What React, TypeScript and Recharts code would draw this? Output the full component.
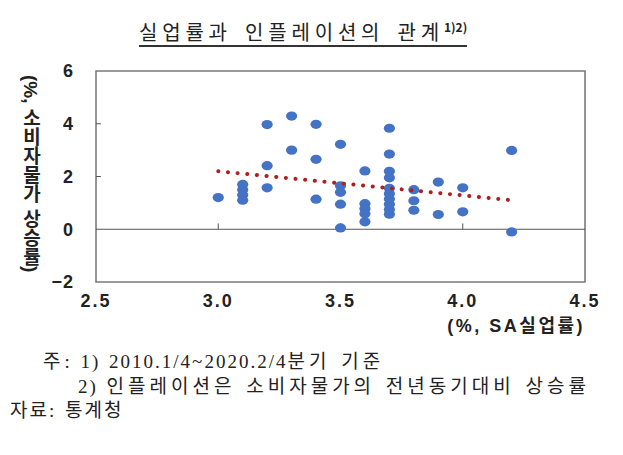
import React from 'react';
import { ScatterChart, Scatter, XAxis, YAxis, ReferenceLine, ReferenceArea } from 'recharts';

const unemployment = [
  3.0,
  3.1, 3.1, 3.1, 3.1,
  3.2, 3.2, 3.2,
  3.3, 3.3,
  3.4, 3.4, 3.4,
  3.5, 3.5, 3.5, 3.5, 3.5,
  3.6, 3.6, 3.6, 3.6, 3.6,
  3.7, 3.7, 3.7, 3.7, 3.7, 3.7, 3.7, 3.7, 3.7, 3.7,
  3.8, 3.8, 3.8,
  3.9, 3.9,
  4.0, 4.0,
  4.2, 4.2,
];
const inflation = [
  1.2,
  1.7, 1.5, 1.3, 1.1,
  3.97, 2.41, 1.57,
  4.29, 3.0,
  3.98, 2.65, 1.14,
  3.22, 1.65, 1.4, 0.95, 0.05,
  2.21, 0.97, 0.78, 0.59, 0.28,
  3.83, 2.85, 2.2, 1.95, 1.55, 1.35, 1.15, 0.95, 0.75, 0.57,
  1.5, 1.08, 0.72,
  1.79, 0.56,
  1.57, 0.66,
  2.99, -0.1,
];
const trendX = [3.0, 4.2];
const trendY = [2.2, 1.1];
const xTicks = [2.5, 3.0, 3.5, 4.0, 4.5];
const yTicks = [-2, 0, 2, 4, 6];
const xInnerTicks = [3.0, 3.5, 4.0];
const yInnerTicks = [2, 4];

const points = unemployment.map((x, i) => ({ x, y: inflation[i] }));
const trend = trendX.map((x, i) => ({ x, y: trendY[i] }));

const tickFont = {
  fontFamily: "'Liberation Sans', Arial, 'Noto Sans CJK KR', sans-serif",
  fontWeight: 700,
  fontSize: 18,
  fill: '#222',
};

const Dot = (props: any) => {
  const { cx, cy } = props;
  if (cx == null || cy == null) return null;
  return <ellipse cx={cx} cy={cy} rx={5.6} ry={4.6} fill="#4472C4" />;
};

const fmt = (v: number) => (v === -2 ? '\u22122' : v.toFixed(0));

const hangul = { letterSpacing: 4 };
const latin = { letterSpacing: 2 };

export default function App() {
  return (
    <div style={{ position: 'relative', width: 623, height: 455, background: '#fff', overflow: 'hidden' }}>
      <style>{`body{margin:0}`}</style>
      <div
        style={{
          position: 'absolute',
          left: 139,
          top: 14,
          fontFamily: "'Noto Sans CJK KR', sans-serif",
          fontSize: 20,
          color: '#222',
          letterSpacing: 4.8,
          wordSpacing: 4,
          borderBottom: '2px solid #333',
          lineHeight: '26px',
          whiteSpace: 'nowrap',
        }}
      >
        실업률과 인플레이션의 관계
        <span style={{ fontSize: 12, fontWeight: 700, verticalAlign: 'super', letterSpacing: 0, wordSpacing: 0 }}>1)2)</span>
      </div>
      <ScatterChart width={623} height={455} margin={{ top: 71, left: 70, right: 38, bottom: 143 }}>
        <XAxis
          type="number"
          dataKey="x"
          domain={[2.5, 4.5]}
          ticks={xTicks}
          tickFormatter={(v: number) => v.toFixed(1)}
          axisLine={false}
          tickLine={false}
          tick={{ ...tickFont, letterSpacing: 2 }}
          tickMargin={6}
          height={30}
          interval={0}
          allowDataOverflow
          label={{
            content: () => (
              <text x={585} y={332} textAnchor="end" style={{ ...tickFont, fontSize: 18, letterSpacing: 2.5 }}>
                (%, SA실업률)
              </text>
            ),
          }}
        />
        <YAxis
          type="number"
          dataKey="y"
          domain={[-2, 6]}
          ticks={yTicks}
          tickFormatter={fmt}
          axisLine={false}
          tickLine={false}
          tick={{ ...tickFont, letterSpacing: 1 }}
          tickMargin={16}
          width={26}
          interval={0}
          allowDataOverflow
          label={{
            content: () => (
              <text
                x={30}
                y={75}
                style={{
                  ...tickFont,
                  fontSize: 19,
                  writingMode: 'vertical-rl',
                  textOrientation: 'mixed',
                } as any}
              >
                (%, 소비자물가 상승률)
              </text>
            ),
          }}
        />
        <ReferenceArea x1={2.5} x2={4.5} y1={-2} y2={6} fill="none" stroke="#7a7a7a" strokeWidth={1.6} />
        <ReferenceLine y={0} stroke="#555" strokeWidth={1} />
        {xInnerTicks.map((t) => (
          <ReferenceLine key={'xt' + t} segment={[{ x: t, y: 0 }, { x: t, y: 0.22 }]} stroke="#555" strokeWidth={1} />
        ))}
        {yInnerTicks.map((t) => (
          <ReferenceLine key={'yt' + t} segment={[{ x: 2.5, y: t }, { x: 2.52, y: t }]} stroke="#555" strokeWidth={1} />
        ))}
        <Scatter data={points} shape={<Dot />} isAnimationActive={false} />
        <Scatter
          data={trend}
          shape={() => null}
          line={{ stroke: '#B01E1E', strokeWidth: 4, strokeDasharray: '0.1 9.6', strokeLinecap: 'round' }}
          isAnimationActive={false}
        />
      </ScatterChart>
      <div
        style={{
          position: 'absolute',
          left: 0,
          top: 350,
          fontFamily: "'Liberation Serif', 'Noto Sans CJK KR', serif",
          fontSize: 19,
          color: '#222',
          lineHeight: '24.5px',
          whiteSpace: 'nowrap',
          wordSpacing: 2,
        }}
      >
        <div style={{ paddingLeft: 43 }}>
          <span style={hangul}>주</span>
          <span style={latin}>: 1) 2010.1/4~2020.2/4</span>
          <span style={hangul}>분기 기준</span>
        </div>
        <div style={{ paddingLeft: 78 }}>
          <span style={latin}>2) </span>
          <span style={hangul}>인플레이션은 소비자물가의 전년동기대비 상승률</span>
        </div>
        <div style={{ paddingLeft: 10 }}>
          <span style={{ letterSpacing: 2 }}>자료</span>
          <span style={latin}>: </span>
          <span style={{ letterSpacing: 2 }}>통계청</span>
        </div>
      </div>
    </div>
  );
}
